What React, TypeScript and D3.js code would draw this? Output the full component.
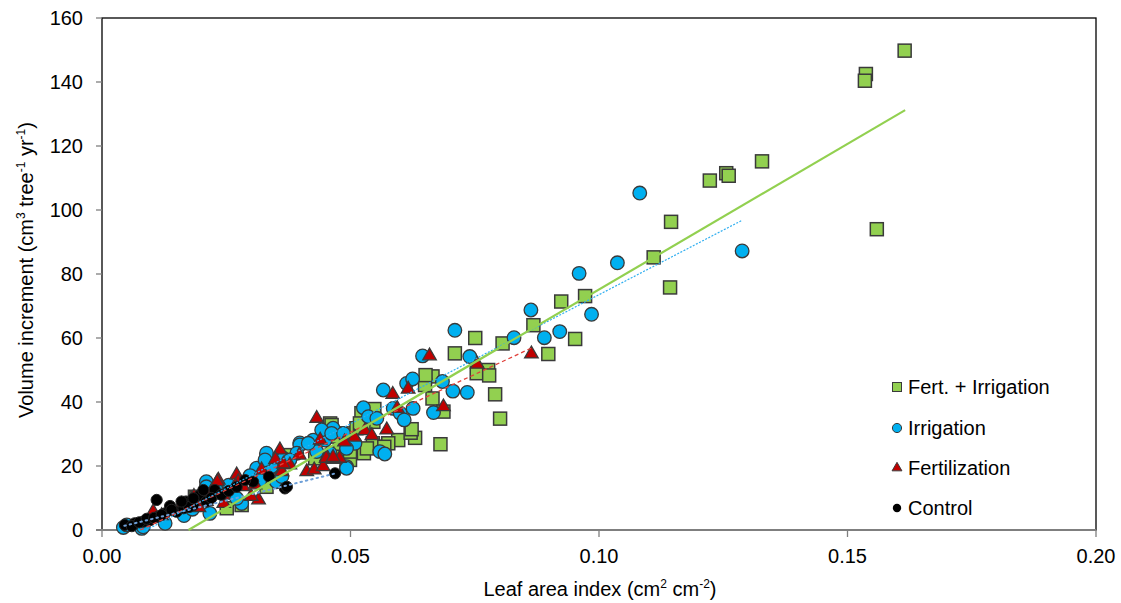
import React from "react";
import * as d3 from "d3";

// leaf area index vs volume increment
const fertIrrigation: [number, number][] = [
  [0.1615, 149.8], [0.1537, 142.5], [0.1535, 140.4], [0.1559, 94], [0.1328, 115.2],
  [0.1256, 111.5], [0.1261, 110.7], [0.1223, 109.2], [0.1145, 96.3], [0.111, 85.2],
  [0.1143, 75.8], [0.0972, 73.1], [0.0924, 71.4], [0.0868, 64], [0.0952, 59.7],
  [0.0806, 58.3], [0.0751, 60], [0.071, 55.2], [0.0898, 55], [0.0777, 50],
  [0.0754, 49], [0.0779, 48.3], [0.0791, 42.4], [0.0801, 34.8], [0.0681, 26.8],
  [0.0665, 48], [0.065, 45.3], [0.0651, 48.4], [0.0665, 41.1], [0.0687, 37],
  [0.063, 28.8], [0.0596, 28.1], [0.0621, 30.4], [0.0623, 31.5], [0.0527, 24],
  [0.0556, 26], [0.0576, 27.1], [0.0545, 27.1], [0.0492, 30.2], [0.0459, 32.8],
  [0.0546, 35.4], [0.0546, 33.8], [0.0499, 21.9], [0.0475, 24], [0.0499, 24.5],
  [0.0533, 25.5], [0.0459, 33.3], [0.0479, 26.6], [0.0325, 16.1], [0.0331, 13.5],
  [0.0281, 7.8], [0.0368, 23.4], [0.0429, 22.4], [0.0187, 10.4], [0.0251, 6.8],
  [0.0522, 36.5], [0.0548, 37.8], [0.0526, 32.8], [0.0465, 29.2], [0.0512, 31.8],
  [0.0519, 33.3], [0.0465, 22.9], [0.0331, 21.9], [0.0351, 19.8], [0.019, 9.9],
  [0.0568, 26], [0.0462, 32.8],
];

const irrigation: [number, number][] = [
  [0.1082, 105.3], [0.1288, 87.2], [0.1037, 83.5], [0.096, 80.2], [0.0863, 68.75],
  [0.0985, 67.4], [0.0921, 62], [0.089, 60.1], [0.0829, 60.1], [0.071, 62.4],
  [0.074, 54.2], [0.0706, 43.4], [0.0735, 43], [0.0645, 54.4], [0.0685, 46.4],
  [0.0667, 36.7], [0.0626, 38], [0.0613, 45.8], [0.0625, 47.2], [0.0566, 43.75],
  [0.0526, 38.2], [0.0536, 35.4], [0.0553, 34.9], [0.0586, 38], [0.06, 36.5],
  [0.0608, 34.4], [0.0559, 24.5], [0.0569, 23.75], [0.0509, 27.1], [0.0492, 25.5],
  [0.0492, 19.8], [0.0465, 31.8], [0.0449, 28.1], [0.0425, 28.1], [0.0398, 27.2],
  [0.0432, 24.5], [0.0331, 24], [0.0365, 22.4], [0.0398, 26.6], [0.0392, 24],
  [0.0442, 31.25], [0.0462, 30.2], [0.0486, 30.2], [0.0459, 24], [0.0492, 19.3],
  [0.0311, 19.3], [0.0318, 15.6], [0.0341, 19.8], [0.0351, 15.1], [0.021, 15.1],
  [0.0415, 27.1], [0.0378, 21.9], [0.0043, 0.8], [0.008, 0.5], [0.021, 13.5],
  [0.0127, 2.1], [0.0281, 8.3], [0.0217, 5.2], [0.0083, 1], [0.005, 1.6],
  [0.0328, 21.9], [0.0362, 16.7], [0.0271, 9.9], [0.0165, 4.5], [0.0195, 9],
  [0.0235, 12], [0.0255, 14], [0.0298, 17], [0.0182, 6.5],
];

const fertilization: [number, number][] = [
  [0.0864, 55], [0.0755, 51.8], [0.0659, 54.4], [0.0616, 44], [0.0585, 42.4],
  [0.0687, 38.5], [0.0573, 31.25], [0.0594, 38], [0.0432, 34.9], [0.0439, 28.1],
  [0.0452, 22.9], [0.0478, 22.4], [0.0412, 18.2], [0.0427, 18.75], [0.0445, 19.8],
  [0.0358, 25], [0.0451, 22.4], [0.0397, 23.4], [0.0321, 18.75], [0.0378, 20.3],
  [0.0271, 17.2], [0.0274, 15.1], [0.0234, 15.6], [0.0284, 13.5], [0.0315, 9.4],
  [0.0268, 13.75], [0.0308, 14.1], [0.0245, 8.3], [0.021, 8.9], [0.0362, 18.2],
  [0.0465, 22.7], [0.0349, 22], [0.0232, 15.1], [0.022, 12], [0.0244, 10.9],
  [0.0103, 5.7], [0.0508, 29], [0.0488, 27.5], [0.0529, 31], [0.0543, 29.5],
  [0.0365, 20.6], [0.03, 10.5], [0.016, 8], [0.014, 6], [0.012, 4.5],
  [0.0185, 10.5], [0.0195, 7],
];

const control: [number, number][] = [
  [0.0046, 1.6], [0.0066, 2.1], [0.0083, 2.6], [0.0097, 3.1], [0.011, 9.4],
  [0.0113, 4.2], [0.0127, 5.2], [0.0137, 7.5], [0.015, 5.7], [0.0164, 6.8],
  [0.0169, 8.9], [0.0184, 7.8], [0.0197, 10.9], [0.0204, 12.5], [0.021, 8.9],
  [0.0227, 12.5], [0.0469, 17.7], [0.0368, 13], [0.0304, 15.1], [0.014, 6.3],
  [0.0175, 7.2], [0.022, 10], [0.024, 11], [0.0255, 12.2], [0.0271, 13.5],
  [0.0288, 15.6], [0.0372, 13.5], [0.0336, 16.7], [0.006, 1.2], [0.0075, 2.4],
  [0.009, 3.5], [0.0105, 3.8], [0.012, 4.7], [0.016, 8.9], [0.0184, 9.9],
];

// trendline end points
const fertIrrLine: [number, number][] = [[0.0174, 0], [0.1616, 131.2]];
const irrigationLine: [number, number][] = [[0.0089, 0], [0.1287, 96.7]];
const fertilizationLine: [number, number][] = [[0.0077, 0], [0.0866, 57]];
const controlLine: [number, number][] = [[0.0045, 1.3], [0.047, 17.7]];

const xTicks = [0, 0.05, 0.1, 0.15, 0.2];
const yTicks = [0, 20, 40, 60, 80, 100, 120, 140, 160];
const legendLabels = ["Fert. + Irrigation", "Irrigation", "Fertilization", "Control"];

const width = 1121;
const height = 603;
const margin = { left: 102, right: 25, top: 18, bottom: 73 };
const font = "Arial, 'Liberation Sans', sans-serif";
const FS = 20;

const GREEN = "#92D050";
const BLUE = "#00B0F0";
const RED = "#C00000";
const EDGE = "#3a3a3a";

export default function App() {
  const x = d3.scaleLinear().domain([0, 0.2]).range([margin.left, width - margin.right]);
  const y = d3.scaleLinear().domain([0, 160]).range([height - margin.bottom, margin.top]);
  const line = d3.line<[number, number]>().x((d) => x(d[0])).y((d) => y(d[1]));
  const tri = d3.symbol(d3.symbolTriangle, 80)() as string;
  const triSmall = d3.symbol(d3.symbolTriangle, 42)() as string;

  const x0 = x(0), x1 = x(0.2), y0 = y(0), y1 = y(160);
  const legendY = [387, 428, 468, 508];
  const lx = 897;

  return (
    <div style={{ position: "absolute", left: 0, top: 0 }}>
      <svg width={width} height={height} style={{ display: "block", background: "#fff" }} fontFamily={font}>
        {/* frame */}
        <rect x={x0} y={y1} width={x1 - x0} height={y0 - y1} fill="none" stroke="#000" strokeWidth={1.3} />

        {/* y ticks */}
        {yTicks.map((t) => (
          <g key={t}>
            <line x1={x0 - 6} x2={x0} y1={y(t)} y2={y(t)} stroke="#7f7f7f" strokeWidth={1.3} />
            <text x={x0 - 19} y={y(t)} dy="0.35em" textAnchor="end" fontSize={FS} fill="#000">
              {t}
            </text>
          </g>
        ))}
        {/* x ticks */}
        {xTicks.map((t) => (
          <g key={t}>
            <line x1={x(t)} x2={x(t)} y1={y0} y2={y0 + 7} stroke="#7f7f7f" strokeWidth={1.3} />
            <text x={x(t)} y={y0 + 33} textAnchor="middle" fontSize={FS} fill="#000">
              {t.toFixed(2)}
            </text>
          </g>
        ))}
        <line x1={x0 - 6} x2={x1} y1={y0} y2={y0} stroke="#7f7f7f" strokeWidth={2} />

        {/* points */}
        {fertIrrigation.map((d, i) => (
          <rect key={"s" + i} x={x(d[0]) - 6.5} y={y(d[1]) - 6.5} width={13} height={13}
            fill={GREEN} stroke={EDGE} strokeWidth={1.5} />
        ))}
        {irrigation.map((d, i) => (
          <circle key={"c" + i} cx={x(d[0])} cy={y(d[1])} r={6.8} fill={BLUE} stroke={EDGE} strokeWidth={1.3} />
        ))}
        {fertilization.map((d, i) => (
          <path key={"t" + i} d={tri} transform={`translate(${x(d[0])},${y(d[1])})`}
            fill={RED} stroke={EDGE} strokeWidth={1.3} />
        ))}
        {control.map((d, i) => (
          <circle key={"k" + i} cx={x(d[0])} cy={y(d[1])} r={5.6} fill="#000" stroke="#222" strokeWidth={1} />
        ))}

        {/* trendlines */}
        <path d={line(controlLine) ?? ""} fill="none" stroke="#6fa0d8" strokeWidth={2} strokeDasharray="1.5 4" strokeLinecap="round" />
        <path d={line(fertilizationLine) ?? ""} fill="none" stroke="#e0413b" strokeWidth={1.3} strokeDasharray="4 3" />
        <path d={line(irrigationLine) ?? ""} fill="none" stroke="#2eaef0" strokeWidth={1.2} strokeDasharray="2 1.5" />
        <path d={line(fertIrrLine) ?? ""} fill="none" stroke={GREEN} strokeWidth={2.2} />

        {/* legend */}
        <rect x={lx - 4.5} y={legendY[0] - 4.5} width={9} height={9} fill={GREEN} stroke={EDGE} strokeWidth={1} />
        <circle cx={lx} cy={legendY[1]} r={4.6} fill={BLUE} stroke={EDGE} strokeWidth={1} />
        <path d={triSmall} transform={`translate(${lx},${legendY[2]})`} fill={RED} stroke={EDGE} strokeWidth={1} />
        <circle cx={lx} cy={legendY[3]} r={4.2} fill="#000" />
        {legendLabels.map((l, i) => (
          <text key={l} x={lx + 11} y={legendY[i]} dy="0.35em" fontSize={FS} fill="#000">
            {l}
          </text>
        ))}

        {/* axis titles */}
        <text x={(x0 + x1) / 2 + 1} y={596} textAnchor="middle" fontSize={FS} fill="#000">
          Leaf area index (cm<tspan fontSize={12} dy={-8}>2</tspan>
          <tspan dy={8}> cm</tspan>
          <tspan fontSize={12} dy={-8}>-2</tspan>
          <tspan dy={8}>)</tspan>
        </text>
        <text transform={`translate(33,${(y0 + y1) / 2 - 4}) rotate(-90)`} textAnchor="middle" fontSize={FS} fill="#000">
          Volume increment (cm<tspan fontSize={12} dy={-8}>3</tspan>
          <tspan dy={8}> tree</tspan>
          <tspan fontSize={12} dy={-8}>-1</tspan>
          <tspan dy={8}> yr</tspan>
          <tspan fontSize={12} dy={-8}>-1</tspan>
          <tspan dy={8}>)</tspan>
        </text>
      </svg>
    </div>
  );
}
